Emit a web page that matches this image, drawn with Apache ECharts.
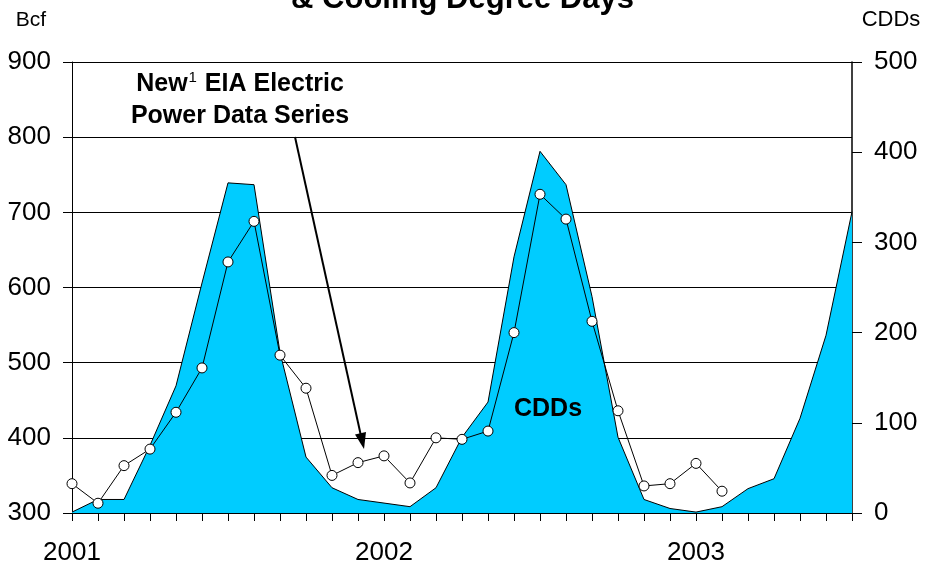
<!DOCTYPE html>
<html>
<head>
<meta charset="utf-8">
<script src="https://cdn.jsdelivr.net/npm/echarts@6/dist/echarts.min.js"></script>
<style>
  html, body { margin: 0; padding: 0; background: #ffffff; }
  #chart { width: 925px; height: 563px; }
</style>
</head>
<body>
<div id="chart"></div>
<script>
// Monthly categories, Jan 2001 through Jul 2003
const months = [
  '2001-01','2001-02','2001-03','2001-04','2001-05','2001-06','2001-07','2001-08','2001-09','2001-10','2001-11','2001-12',
  '2002-01','2002-02','2002-03','2002-04','2002-05','2002-06','2002-07','2002-08','2002-09','2002-10','2002-11','2002-12',
  '2003-01','2003-02','2003-03','2003-04','2003-05','2003-06','2003-07'
];

// Natural gas consumed for electric power (Bcf), left axis
const gasBcf = [
  339, 313, 363, 385, 434, 493, 634, 688, 510, 466, 350, 367,
  376, 340, 400, 398, 409, 540, 724, 691, 555, 436, 336, 339,
  366, 329, null, null, null, null, null
];

// Cooling degree days, right axis
const coolingDD = [
  1, 15, 15, 75, 141, 255, 366, 364, 178, 62, 28, 15,
  11, 7, 28, 84, 123, 284, 401, 364, 240, 84, 15, 5,
  1, 7, 27, 38, 105, 197, 334
];

// Axis tick values
const bcfTicks = { min: 300, max: 900, step: 100 };
const cddTicks = { min: 0, max: 500, step: 100 };

const FONT = '"Liberation Sans", Arial, sans-serif';

const chart = echarts.init(document.getElementById('chart'), null, { renderer: 'canvas' });

chart.setOption({
  animation: false,
  backgroundColor: '#ffffff',
  grid: { left: 72, right: 73, top: 62, bottom: 50, containLabel: false, outerBoundsMode: 'none' },
  xAxis: {
    type: 'category',
    data: months,
    boundaryGap: false,
    axisLine: { lineStyle: { color: '#000', width: 1 } },
    axisTick: { show: true, interval: 0, length: 8, lineStyle: { color: '#000', width: 1 } },
    axisLabel: {
      interval: 11,
      margin: 27,
      fontFamily: FONT,
      fontSize: 26,
      color: '#000',
      formatter: v => v.slice(0, 4)
    },
    splitLine: { show: false }
  },
  yAxis: [
    {
      type: 'value',
      min: bcfTicks.min,
      max: bcfTicks.max,
      interval: bcfTicks.step,
      position: 'left',
      axisLine: { show: true, lineStyle: { color: '#000', width: 1 } },
      axisTick: { show: true, length: 9, lineStyle: { color: '#000', width: 1 } },
      axisLabel: { margin: 21, fontFamily: FONT, fontSize: 26, color: '#000' },
      splitLine: { show: true, lineStyle: { color: '#000', width: 1 } }
    },
    {
      type: 'value',
      min: cddTicks.min,
      max: cddTicks.max,
      interval: cddTicks.step,
      position: 'right',
      axisLine: { show: true, lineStyle: { color: '#000', width: 1.5 } },
      axisTick: { show: true, length: 10, lineStyle: { color: '#000', width: 1 } },
      axisLabel: { margin: 22, fontFamily: FONT, fontSize: 26, color: '#000' },
      splitLine: { show: false }
    }
  ],
  series: [
    {
      name: 'CDDs',
      type: 'line',
      yAxisIndex: 1,
      data: coolingDD,
      showSymbol: false,
      symbol: 'none',
      lineStyle: { color: '#000', width: 1 },
      areaStyle: { color: '#00CCFF', opacity: 1 },
      z: 2
    },
    {
      name: 'Bcf',
      type: 'line',
      yAxisIndex: 0,
      data: gasBcf,
      symbol: 'circle',
      symbolSize: 10,
      showAllSymbol: true,
      lineStyle: { color: '#000', width: 1 },
      itemStyle: { color: '#ffffff', borderColor: '#000', borderWidth: 1 },
      z: 3
    }
  ],
  graphic: [
    {
      type: 'text', left: 'center', top: -16,
      style: { text: '& Cooling Degree Days', font: 'bold 31px ' + FONT, fill: '#000' },
      z: 10
    },
    {
      type: 'text', x: 31, y: 20,
      style: { text: 'Bcf', font: '21px ' + FONT, fill: '#000', align: 'center', verticalAlign: 'middle' }
    },
    {
      type: 'text', x: 891, y: 20,
      style: { text: 'CDDs', font: '22px ' + FONT, fill: '#000', align: 'center', verticalAlign: 'middle' }
    },
    {
      type: 'text', x: 240, y: 100,
      style: {
        text: '{b|New}{s|1}{b| EIA Electric}\n{b|Power Data Series}',
        align: 'center', verticalAlign: 'middle',
        rich: {
          b: { fontFamily: FONT, fontWeight: 'bold', fontSize: 25, lineHeight: 32, fill: '#000' },
          s: { fontFamily: FONT, fontSize: 15, lineHeight: 32, verticalAlign: 'top', fill: '#000', padding: [2, 1, 0, 1] }
        }
      },
      z: 10
    },
    {
      type: 'text', x: 548, y: 409,
      style: { text: 'CDDs', font: 'bold 25px ' + FONT, fill: '#000', align: 'center', verticalAlign: 'middle' },
      z: 10
    },
    {
      type: 'line',
      shape: { x1: 295, y1: 137, x2: 361, y2: 436 },
      style: { stroke: '#000', lineWidth: 2 },
      z: 10
    },
    {
      type: 'polygon',
      shape: { points: [[364, 449], [366, 432], [355, 434.5]] },
      style: { fill: '#000' },
      z: 10
    }
  ]
});
</script>
</body>
</html>
